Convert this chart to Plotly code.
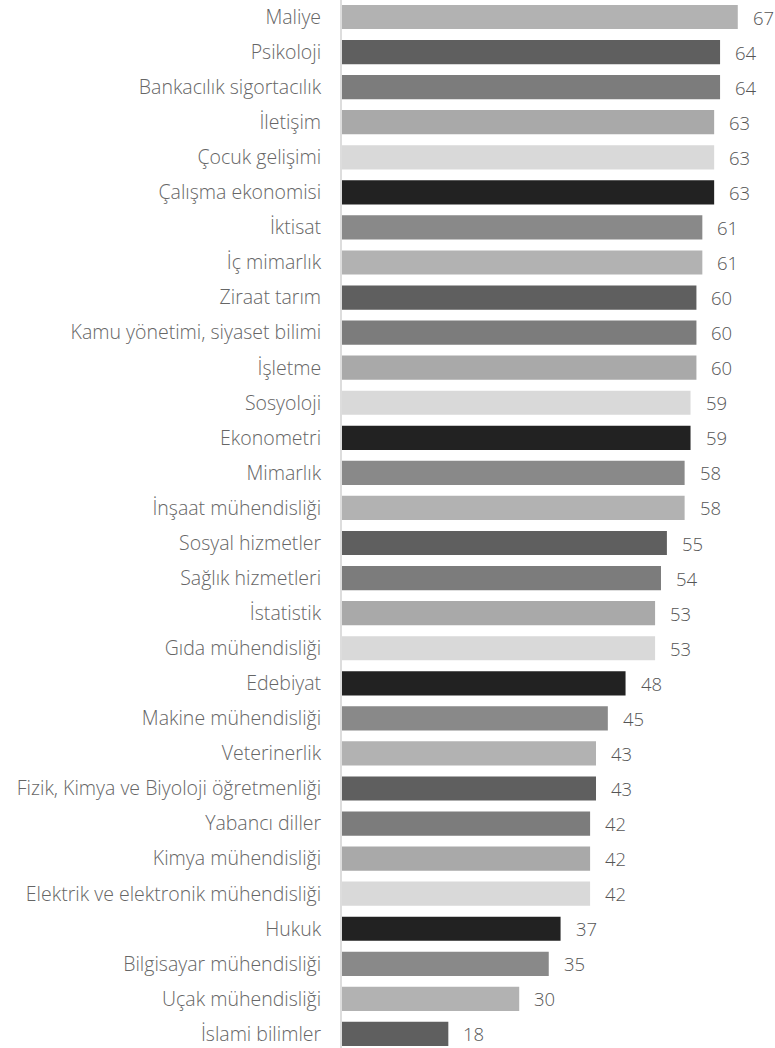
import plotly.graph_objects as go

categories = [
    "Maliye", "Psikoloji", "Bankacılık sigortacılık", "İletişim", "Çocuk gelişimi",
    "Çalışma ekonomisi", "İktisat", "İç mimarlık", "Ziraat tarım",
    "Kamu yönetimi, siyaset bilimi", "İşletme", "Sosyoloji", "Ekonometri",
    "Mimarlık", "İnşaat mühendisliği", "Sosyal hizmetler", "Sağlık hizmetleri",
    "İstatistik", "Gıda mühendisliği", "Edebiyat", "Makine mühendisliği",
    "Veterinerlik", "Fizik, Kimya ve Biyoloji öğretmenliği", "Yabancı diller",
    "Kimya mühendisliği", "Elektrik ve elektronik mühendisliği", "Hukuk",
    "Bilgisayar mühendisliği", "Uçak mühendisliği", "İslami bilimler",
]
values = [67, 64, 64, 63, 63, 63, 61, 61, 60, 60, 60, 59, 59, 58, 58,
          55, 54, 53, 53, 48, 45, 43, 43, 42, 42, 42, 37, 35, 30, 18]
palette = ["#b2b2b2", "#5f5f5f", "#7c7c7c", "#a9a9a9", "#d9d9d9", "#222222", "#898989"]
colors = [palette[i % len(palette)] for i in range(len(values))]

FONT = "Open Sans"
FS = 19.5

fig = go.Figure(go.Bar(
    x=values, y=categories, orientation="h",
    marker=dict(color=colors, line=dict(width=0)),
    hoverinfo="skip",
))

for c, v in zip(categories, values):
    fig.add_annotation(x=v, y=c, text=str(v), showarrow=False,
                       xanchor="left", xshift=13,
                       font=dict(family=FONT, size=FS - 1, color="#555555", weight=300))

fig.update_layout(
    width=775, height=1048,
    margin=dict(l=342, r=0, t=0, b=0),
    paper_bgcolor="white", plot_bgcolor="white",
    bargap=0.31,
    showlegend=False,
    font=dict(family=FONT, size=FS, color="#666666", weight=300),
)
fig.update_xaxes(range=[0, 73.3], visible=False, fixedrange=True)
fig.update_yaxes(range=[len(categories) - 0.6, -0.485], showline=True,
                 linecolor="#dddddd", linewidth=2,
                 showgrid=False, ticks="", ticklabelstandoff=15,
                 tickfont=dict(family=FONT, size=FS, color="#666666", weight=300),
                 fixedrange=True)

fig.write_html("out.html", config={"displayModeBar": False})
